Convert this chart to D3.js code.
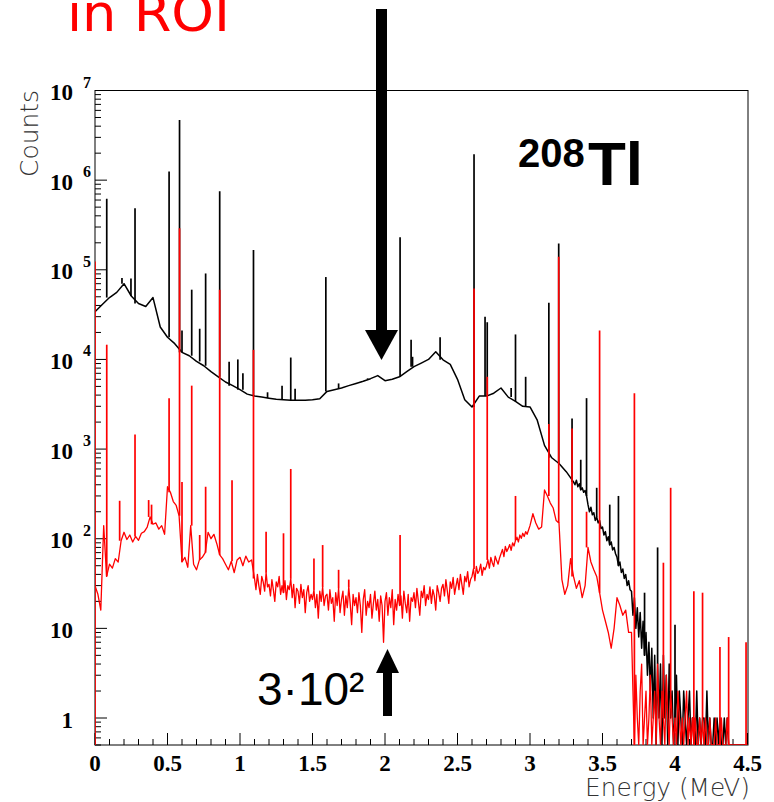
<!DOCTYPE html>
<html>
<head>
<meta charset="utf-8">
<script src="https://cdn.jsdelivr.net/npm/d3@7"></script>
<style>
  body { margin: 0; background: #fff; }
</style>
</head>
<body>
<svg id="chart" width="774" height="802"></svg>
<script>
// ----- data -----
// full spectrum (black), 0.00 .. 3.25 MeV every 0.05
const blackCont = [
  34000, 41000, 49000, 56000, 70000, 51000, 42000, 39000, 49000, 23000,
  17700, 15000, 12000, 11000, 9500, 8500, 7300, 6400, 5600, 5100,
  4600, 4100, 3900, 3800, 3700, 3600, 3550, 3500, 3500, 3500,
  3550, 3650, 4400, 4600, 4800, 5100, 5400, 5700, 6100, 6600,
  5800, 6000, 6400, 7300, 8300, 9100, 10000, 12200, 9900, 8800,
  6000, 3550, 2950, 3900, 3900, 4200, 4800, 3800, 3400, 3000,
  2950, 2100, 1100, 800, 690, 560
];
// black tail, 3.30 .. 4.50 every 0.01
const blackTail = [
  430, 400, 450, 380, 410, 350, 370, 330, 345, 300,
  240, 200, 225, 185, 195, 160, 175, 150, 160, 130,
  135, 110, 120, 95, 105, 85, 92, 75, 80, 68,
  62, 50, 55, 42, 46, 36, 40, 30, 34, 27,
  26, 14, 22, 10, 17, 8, 15, 6, 12, 5,
  9, 3, 7, 2, 6, 1, 5, 0, 4, 1,
  4, 0, 5, 1, 3, 0, 4, 1, 2, 0,
  1, 3, 0, 2, 1, 0, 2, 1, 0, 1,
  2, 0, 1, 1, 0, 2, 0, 1, 0, 1,
  1, 0, 2, 0, 1, 0, 0, 1, 0, 1,
  0, 1, 0, 0, 1, 0, 1, 0, 0, 0,
  0, 0, 0, 0, 0, 0, 0, 0, 0, 0, 0
];
// events in ROI (red), 0.00 .. 1.08 every 0.02
const redLow = [
  30, 24, 16, 140, 38, 52, 47, 60, 55, 95,
  118, 98, 110, 92, 106, 96, 115, 120, 135, 175,
  145, 150, 128, 140, 112, 380, 330, 260, 235, 180,
  55, 62, 48, 140, 52, 45, 58, 62, 70, 118,
  100, 112, 88, 66, 60, 52, 45, 56, 42, 58,
  62, 50, 64, 55, 58
];
// red, 1.10 .. 2.99 every 0.01
const redMid = [
  36, 27, 40, 30, 24, 38, 33, 26, 42, 29,
  31, 23, 35, 27, 20, 33, 29, 38, 24, 30,
  25, 34, 21, 30, 27, 36, 22, 31, 17, 28,
  26, 19, 31, 22, 27, 15, 25, 30, 20, 24,
  21, 27, 17, 24, 13, 26, 20, 29, 18, 23,
  24, 16, 27, 19, 22, 12, 25, 18, 28, 15,
  21, 26, 14, 23, 17, 29, 19, 11, 24, 18,
  22, 15, 25, 18, 9, 21, 27, 14, 20, 17,
  24, 13, 19, 26, 16, 21, 12, 23, 18, 7,
  20, 25, 14, 22, 17, 27, 11, 21, 16, 24,
  18, 23, 13, 26, 19, 15, 24, 12, 22, 20,
  25, 17, 28, 20, 14, 26, 22, 30, 18, 24,
  21, 29, 19, 27, 23, 16, 30, 25, 20, 28,
  31, 23, 35, 26, 19, 33, 28, 37, 24, 30,
  36, 27, 40, 31, 24, 38, 33, 43, 29, 35,
  38, 46, 34, 49, 41, 44, 52, 39, 48, 45,
  50, 58, 47, 62, 54, 49, 64, 57, 52, 61,
  68, 76, 63, 82, 72, 78, 86, 74, 90, 83,
  96, 104, 92, 110, 101, 115, 106, 120, 112, 125
];
// red, 3.00 .. 3.68 every 0.02
const redHigh = [
  140, 190, 150, 128, 135, 350, 300, 250, 220, 160,
  150, 35, 24, 30, 60, 38, 28, 34, 22, 30,
  80, 55, 45, 38, 25, 16, 12, 9, 6, 10,
  22, 18, 14, 16, 9
];
// red tail, 3.70 .. 4.50 every 0.01
const redTail = [
  9, 2, 0, 3, 1, 0, 2, 4, 0, 1,
  2, 0, 1, 3, 0, 1, 2, 0, 4, 1,
  0, 2, 1, 0, 3, 1, 0, 2, 1, 0,
  1, 0, 2, 1, 0, 1, 0, 1, 2, 0,
  1, 0, 1, 0, 1, 0, 0, 1, 0, 1,
  0, 1, 0, 0, 1, 0, 0, 0, 1, 0,
  0, 0, 1, 0, 0, 0, 1, 0, 0, 0,
  0, 0, 0, 0, 0, 0, 0, 0, 0, 0, 0
];

// gamma lines: [energy MeV, counts at top, (optional foot)]
const blackPeaks = [
  [0.081, 6.2e5], [0.186, 8.1e4], [0.248, 8.0e4], [0.276, 4.85e5],
  [0.511, 1.25e6], [0.583, 4.7e6], [0.600, 2.1e4], [0.667, 6.0e4],
  [0.722, 2.2e4], [0.763, 9.1e4], [0.860, 7.5e5], [0.925, 9.4e3],
  [0.985, 1.0e4], [1.02, 7.0e3], [1.093, 1.66e5], [1.19, 4.3e3],
  [1.29, 5.1e3], [1.35, 1.05e4], [1.38, 4.7e3], [1.592, 8.3e4],
  [1.68, 5.4e3], [1.88, 6.2e3], [2.104, 2.3e5], [2.18, 1.66e4],
  [2.19, 1.07e4], [2.38, 1.77e4], [2.614, 1.94e6], [2.69, 3.0e4],
  [2.705, 2.6e4], [2.87, 4.8e3], [2.90, 1.9e4], [2.97, 6.4e3],
  [3.13, 4.3e4], [3.198, 1.96e5], [3.29, 2.2e3], [3.35, 760],
  [3.39, 3.7e3], [3.46, 370], [3.55, 240], [3.61, 300],
  [3.79, 25], [3.88, 80], [4.00, 11]
];
const redPeaks = [
  [0.0, 1.24e5, 0.5], [0.081, 1.46e4], [0.17, 265], [0.276, 1450],
  [0.37, 270], [0.39, 240], [0.511, 3700], [0.583, 2.9e5],
  [0.60, 430], [0.667, 5100], [0.722, 110], [0.763, 380],
  [0.860, 6.0e4], [0.945, 450], [1.093, 1.28e4], [1.18, 120],
  [1.30, 115], [1.35, 600], [1.51, 60], [1.57, 85],
  [1.68, 45], [1.75, 35], [2.104, 110], [2.614, 6.2e4],
  [2.705, 6400], [2.90, 300], [3.13, 1900], [3.198, 1.4e5],
  [3.29, 1700], [3.39, 200], [3.48, 2.1e4], [3.72, 4200],
  [3.92, 54], [3.97, 370], [4.13, 26], [4.19, 25],
  [4.31, 6.2], [4.37, 8], [4.49, 7]
];

const xTickLabels = ["0", "0.5", "1", "1.5", "2", "2.5", "3", "3.5", "4", "4.5"];
const yDecades = [1, 10, 1e2, 1e3, 1e4, 1e5, 1e6, 1e7];

// ----- build series: [start MeV, bin width, values] pieces -----
const r3 = v => Math.round(v * 1000) / 1000;
const bins = (start, step, vals) => vals.map((c, i) => [r3(start + i * step), c]);
const blackData = bins(0, 0.05, blackCont).concat(bins(3.30, 0.01, blackTail));
const redData = bins(0, 0.02, redLow)
  .concat(bins(1.10, 0.01, redMid))
  .concat(bins(3.00, 0.02, redHigh))
  .concat(bins(3.70, 0.01, redTail));

// ----- scales -----
const svg = d3.select("#chart");
const frame = { left: 95, right: 748, top: 90.5, bottom: 745 };
const x = d3.scaleLinear().domain([0, 4.5]).range([frame.left, 747.5]);
const y = d3.scaleLog().domain([0.5, 1e7]).range([frame.bottom, frame.top]);
const yv = v => y(Math.max(v, 0.5));   // empty bins sit on the floor

svg.append("defs").append("clipPath").attr("id", "plot")
  .append("rect")
  .attr("x", frame.left).attr("y", frame.top)
  .attr("width", frame.right - frame.left).attr("height", frame.bottom - frame.top);

// ----- frame + ticks -----
svg.append("rect")
  .attr("x", frame.left).attr("y", frame.top)
  .attr("width", frame.right - frame.left).attr("height", frame.bottom - frame.top)
  .attr("fill", "none").attr("stroke", "#000").attr("stroke-width", 1);

const ticks = svg.append("g").attr("stroke", "#000").attr("stroke-width", 1);
// y: decades long, 2..9 short
yDecades.forEach(v => {
  ticks.append("line").attr("x1", frame.left).attr("x2", frame.left + 12)
    .attr("y1", y(v)).attr("y2", y(v));
});
const yMinor = [];
[0.1, 1, 10, 1e2, 1e3, 1e4, 1e5, 1e6].forEach(d => {
  d3.range(2, 10).forEach(k => { const v = k * d; if (v >= 0.5 && v < 1e7) yMinor.push(v); });
});
yMinor.forEach(v => {
  ticks.append("line").attr("x1", frame.left).attr("x2", frame.left + 6)
    .attr("y1", y(v)).attr("y2", y(v));
});
// x: every 0.5 long, every 0.1 short
d3.range(0, 46).forEach(i => {
  const e = i / 10;
  const len = i % 5 === 0 ? 12 : 6;
  ticks.append("line").attr("x1", x(e)).attr("x2", x(e))
    .attr("y1", frame.bottom).attr("y2", frame.bottom - len);
});

// ----- tick labels -----
const lab = svg.append("g")
  .attr("font-family", "'Liberation Serif', 'Times New Roman', serif")
  .attr("font-weight", "bold").attr("fill", "#000");

xTickLabels.forEach(t => {
  lab.append("text").attr("x", x(+t)).attr("y", 771)
    .attr("text-anchor", "middle").attr("font-size", 23).text(t);
});
yDecades.forEach(v => {
  const p = Math.round(Math.log10(v));
  const base = p === 0 ? "1" : "10";
  lab.append("text").attr("x", 73).attr("y", y(v) + 9.5)
    .attr("text-anchor", "end").attr("font-size", 23).text(base);
  if (p > 1) {
    lab.append("text").attr("x", 83).attr("y", y(v) - 3)
      .attr("font-size", 16).text(p);
  }
});

// axis titles
svg.append("text")
  .attr("transform", "translate(38,177) rotate(-90)")
  .attr("font-family", "'DejaVu Sans', sans-serif").attr("font-weight", 200)
  .attr("font-size", 25).attr("fill", "#333")
  .attr("textLength", 87).attr("lengthAdjust", "spacingAndGlyphs")
  .text("Counts");
svg.append("text")
  .attr("x", 585).attr("y", 796)
  .attr("font-family", "'DejaVu Sans', sans-serif").attr("font-weight", 200)
  .attr("font-size", 24).attr("fill", "#333")
  .attr("textLength", 165).attr("lengthAdjust", "spacingAndGlyphs")
  .text("Energy (MeV)");

// ----- spectra -----
const plot = svg.append("g").attr("clip-path", "url(#plot)");
const line = d3.line().x(d => x(d[0])).y(d => yv(d[1]));
const near = d3.bisector(d => d[0]).center;

function drawSeries(data, peaks, color, width) {
  plot.append("path").datum(data)
    .attr("d", line)
    .attr("fill", "none").attr("stroke", color)
    .attr("stroke-width", width).attr("stroke-linejoin", "round");
  plot.append("g").selectAll("line").data(peaks).join("line")
    .attr("x1", d => x(d[0])).attr("x2", d => x(d[0]))
    .attr("y1", d => yv(d[1]))
    .attr("y2", d => yv(d.length > 2 ? d[2] : data[near(data, d[0])][1]))
    .attr("stroke", color).attr("stroke-width", 1.7);
}
drawSeries(blackData, blackPeaks, "#000", 1.5);
drawSeries(redData, redPeaks, "#ff0000", 1.3);

// ----- annotations -----
svg.append("text")
  .attr("x", 67).attr("y", 31)
  .attr("font-family", "'DejaVu Sans', sans-serif")
  .attr("font-size", 52).attr("fill", "#ff0000")
  .attr("textLength", 163).attr("lengthAdjust", "spacingAndGlyphs")
  .text("in ROI");

// big arrow pointing down at the 2 MeV region
svg.append("rect").attr("x", 376).attr("y", 9).attr("width", 11).attr("height", 322).attr("fill", "#000");
svg.append("path").attr("d", "M365,330 L398,330 L381.5,360 Z").attr("fill", "#000");

// small arrow pointing up
svg.append("rect").attr("x", 383).attr("y", 672).attr("width", 9).attr("height", 44).attr("fill", "#000");
svg.append("path").attr("d", "M376,673 L399,673 L387.5,649 Z").attr("fill", "#000");

svg.append("text")
  .attr("x", 257).attr("y", 705)
  .attr("font-family", "'Liberation Sans', Arial, sans-serif")
  .attr("font-size", 46).attr("fill", "#000")
  .text("3·10²");

// isotope tag
const iso = svg.append("text")
  .attr("font-family", "'Liberation Sans', Arial, sans-serif")
  .attr("font-weight", "bold").attr("fill", "#000");
iso.append("tspan").attr("x", 518).attr("y", 167).attr("font-size", 40).text("208");
iso.append("tspan").attr("x", 588).attr("y", 185).attr("font-size", 62).text("Tl");
</script>
</body>
</html>
